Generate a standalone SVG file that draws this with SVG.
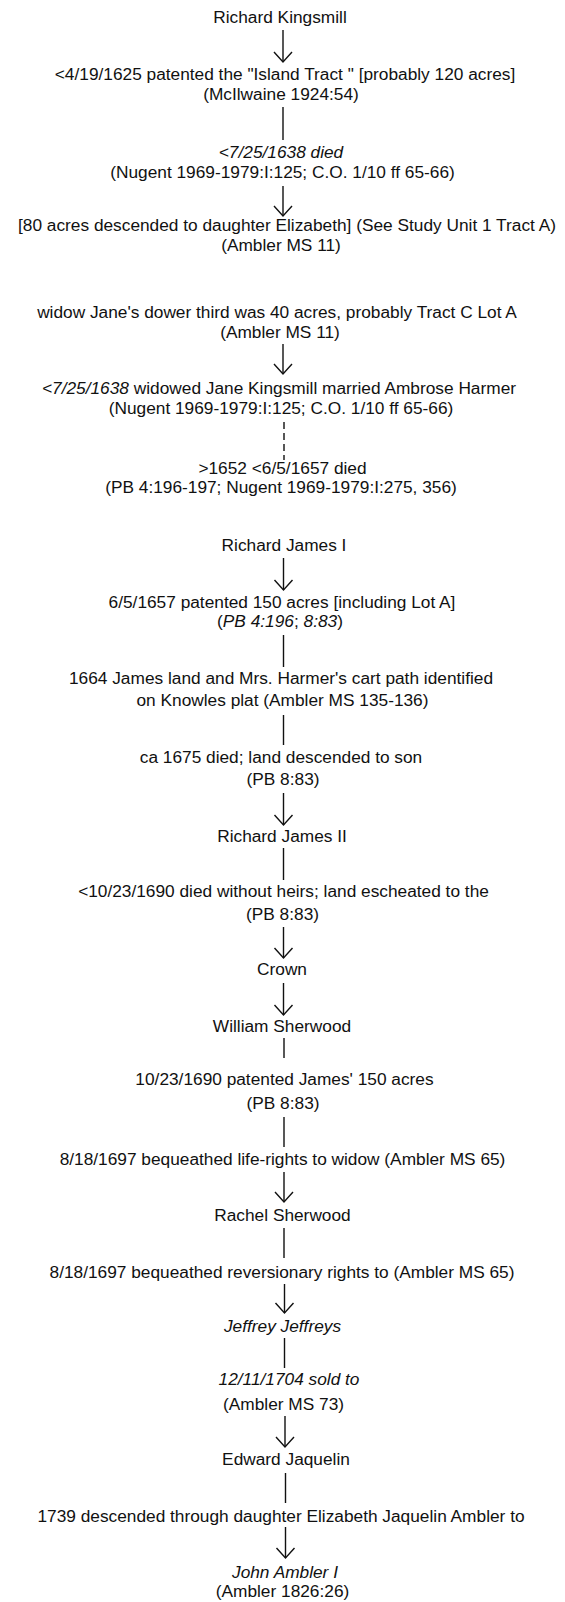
<svg xmlns="http://www.w3.org/2000/svg" width="565" height="1602" viewBox="0 0 565 1602">
<style>
text{font-family:"Liberation Sans",Arial,Helvetica,sans-serif;font-size:17.3px;fill:#111;text-anchor:middle}
.i{font-style:italic}
.c{stroke:#111;stroke-width:1.4;fill:none}
.a{marker-end:url(#ah)}
.d{stroke-dasharray:7 4}
</style>
<defs>
<marker id="ah" markerUnits="userSpaceOnUse" markerWidth="24" markerHeight="24" viewBox="-12 -12 24 24" refX="0" refY="0" orient="auto" overflow="visible">
<path d="M-10,-9 L0,0 L-10,9" fill="none" stroke="#111" stroke-width="1.4"/>
</marker>
</defs>
<rect width="565" height="1602" fill="#fff"/>
<g id="connectors">
<line class="c a" x1="283" y1="30" x2="283" y2="62"/>
<line class="c" x1="283" y1="107" x2="283" y2="140"/>
<line class="c a" x1="283" y1="186" x2="283" y2="216"/>
<line class="c a" x1="283" y1="344" x2="283" y2="374"/>
<line class="c d" x1="284" y1="422" x2="284" y2="460"/>
<line class="c a" x1="283.5" y1="558" x2="283.5" y2="590"/>
<line class="c" x1="283.5" y1="635" x2="283.5" y2="667"/>
<line class="c" x1="283.5" y1="715" x2="283.5" y2="745"/>
<line class="c a" x1="283.5" y1="793" x2="283.5" y2="825"/>
<line class="c" x1="283.5" y1="848" x2="283.5" y2="880"/>
<line class="c a" x1="283.5" y1="927" x2="283.5" y2="958"/>
<line class="c a" x1="283.5" y1="983" x2="283.5" y2="1015"/>
<line class="c" x1="284" y1="1038" x2="284" y2="1058"/>
<line class="c" x1="284" y1="1117" x2="284" y2="1147"/>
<line class="c a" x1="284" y1="1172" x2="284" y2="1202"/>
<line class="c" x1="284" y1="1228" x2="284" y2="1258"/>
<line class="c a" x1="284.5" y1="1284" x2="284.5" y2="1313"/>
<line class="c" x1="284.5" y1="1338" x2="284.5" y2="1368"/>
<line class="c a" x1="285" y1="1416" x2="285" y2="1447"/>
<line class="c" x1="285.5" y1="1473" x2="285.5" y2="1503"/>
<line class="c a" x1="285.5" y1="1527" x2="285.5" y2="1558"/>
</g>
<g id="n1"><text x="280" y="23">Richard Kingsmill</text></g>
<g id="n2"><text x="285" y="80">&lt;4/19/1625 patented the "Island Tract " [probably 120 acres]</text><text x="281" y="100">(McIlwaine 1924:54)</text></g>
<g id="n3"><text x="281" y="158" class="i">&lt;7/25/1638 died</text><text x="282.5" y="178">(Nugent 1969-1979:I:125; C.O. 1/10 ff 65-66)</text></g>
<g id="n4"><text x="287" y="231">[80 acres descended to daughter Elizabeth] (See Study Unit 1 Tract A)</text><text x="281" y="251">(Ambler MS 11)</text></g>
<g id="n5"><text x="277" y="318">widow Jane's dower third was 40 acres, probably Tract C Lot A</text><text x="280" y="338">(Ambler MS 11)</text></g>
<g id="n6"><text x="279" y="394"><tspan class="i">&lt;7/25/1638</tspan> widowed Jane Kingsmill married Ambrose Harmer</text><text x="281" y="414">(Nugent 1969-1979:I:125; C.O. 1/10 ff 65-66)</text></g>
<g id="n7"><text x="282.5" y="474">&gt;1652 &lt;6/5/1657 died</text><text x="281" y="493">(PB 4:196-197; Nugent 1969-1979:I:275, 356)</text></g>
<g id="n8"><text x="284" y="551">Richard James I</text></g>
<g id="n9"><text x="282" y="608">6/5/1657 patented 150 acres [including Lot A]</text><text x="280" y="627">(<tspan class="i">PB 4:196</tspan>; <tspan class="i">8:83</tspan>)</text></g>
<g id="n10"><text x="281" y="684">1664 James land and Mrs. Harmer's cart path identified</text><text x="282.5" y="706">on Knowles plat (Ambler MS 135-136)</text></g>
<g id="n11"><text x="281" y="763">ca 1675 died; land descended to son</text><text x="283" y="785">(PB 8:83)</text></g>
<g id="n12"><text x="282" y="842">Richard James II</text></g>
<g id="n13"><text x="283.5" y="897">&lt;10/23/1690 died without heirs; land escheated to the</text><text x="282.5" y="920">(PB 8:83)</text></g>
<g id="n14"><text x="282" y="975">Crown</text></g>
<g id="n15"><text x="282" y="1032">William Sherwood</text></g>
<g id="n16"><text x="284.5" y="1085">10/23/1690 patented James' 150 acres</text><text x="283" y="1109">(PB 8:83)</text></g>
<g id="n17"><text x="282.5" y="1165">8/18/1697 bequeathed life-rights to widow (Ambler MS 65)</text></g>
<g id="n18"><text x="282.5" y="1221">Rachel Sherwood</text></g>
<g id="n19"><text x="282" y="1278">8/18/1697 bequeathed reversionary rights to (Ambler MS 65)</text></g>
<g id="n20"><text x="282.5" y="1332" class="i">Jeffrey Jeffreys</text></g>
<g id="n21"><text x="289" y="1385" class="i">12/11/1704 sold to</text><text x="283.5" y="1410">(Ambler MS 73)</text></g>
<g id="n22"><text x="286" y="1465">Edward Jaquelin</text></g>
<g id="n23"><text x="281" y="1522">1739 descended through daughter Elizabeth Jaquelin Ambler to</text></g>
<g id="n24"><text x="285" y="1578" class="i">John Ambler I</text><text x="282.5" y="1597">(Ambler 1826:26)</text></g>
</svg>
